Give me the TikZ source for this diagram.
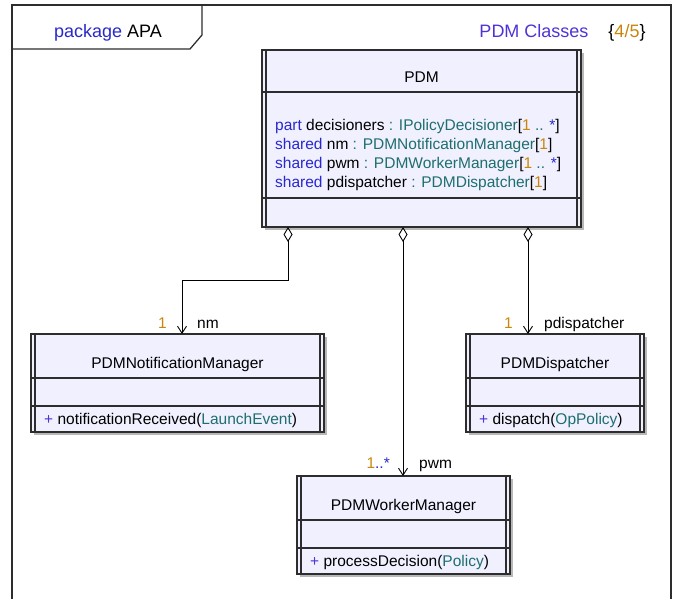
\documentclass[tikz,border=0pt]{standalone}
\usepackage{fontspec}
\setmainfont{Liberation Sans}
\usetikzlibrary{arrows.meta,shadows}
\definecolor{kwblue}{RGB}{40,40,205}
\definecolor{titleblue}{RGB}{80,50,215}
\definecolor{typeteal}{RGB}{30,110,110}
\definecolor{multgold}{RGB}{200,135,10}
\definecolor{boxfill}{RGB}{240,240,255}
\definecolor{lineclr}{RGB}{45,45,45}
\newcommand{\kwd}[1]{\textcolor{kwblue}{#1}}
\newcommand{\typ}[1]{\textcolor{typeteal}{#1}}
\newcommand{\mult}[1]{\textcolor{multgold}{#1}}
\newcommand{\opplus}{\textcolor{titleblue}{+}}
\newcommand{\sidelines}[1]{\draw[divider] ([xshift=4pt]#1.north west) -- ([xshift=4pt]#1.south west) ([xshift=-4pt]#1.north east) -- ([xshift=-4pt]#1.south east);}
\newcommand{\compline}[2]{\draw[divider] ([yshift=-#2pt]#1.north west) -- ([yshift=-#2pt]#1.north east);}

\begin{document}
\begin{tikzpicture}[x=1pt, y=-1pt, font=\fontsize{15.5}{18.7}\selectfont,
	classbox/.style={draw=lineclr, line width=1.4pt, fill=boxfill, inner sep=0pt, outer sep=0pt,
		drop shadow={shadow xshift=3pt, shadow yshift=-3pt, fill=black!28, opacity=1}},
	divider/.style={draw=lineclr, line width=1.2pt},
	frameline/.style={draw=lineclr, line width=1.3pt},
	headtext/.style={font=\fontsize{18}{21}\selectfont, anchor=base},
	txt/.style={anchor=base west, inner sep=0pt},
	endlabel/.style={inner sep=0pt},
	assoc/.style={line width=0.9pt, {Diamond[open, length=15pt, width=9pt]}-{Straight Barb[length=7pt, width=9pt]}}]
	\useasboundingbox (0,0) rectangle (675,599);
	% package frame
	\draw[frameline] (12,600) -- (12,5) -- (671,5) -- (671,600);
	\draw[frameline] (202,5) -- (202,35) -- (190,49) -- (12,49);
	\node[headtext] (pkg) at (108,38) {\kwd{package} APA};
	\node[headtext, text=titleblue] (diag) at (534,38) {PDM Classes};
	\node[headtext] (page) at (627,38) {\{\mult{4/5}\}};
	% PDM
	\node[classbox, minimum width=319pt, minimum height=177pt] (pdm) at (421.5,138.5) {};
	\sidelines{pdm}
	\compline{pdm}{42} \compline{pdm}{148}
	\node[anchor=base] (pdm-name) at ([yshift=-33pt]pdm.north) {PDM};
	\foreach \a [count=\i from 0] in {
		\kwd{part} decisioners \typ{: IPolicyDecisioner}[\mult{1} \typ{..} \kwd{*}],
		\kwd{shared} nm \typ{: PDMNotificationManager}[\mult{1}],
		\kwd{shared} pwm \typ{: PDMWorkerManager}[\mult{1} \typ{..} \kwd{*}],
		\kwd{shared} pdispatcher \typ{: PDMDispatcher}[\mult{1}]}
		\node[txt] (pdm-attr\i) at (275,{131+18.7*\i}) {\a};
	% parts
	\foreach \n/\cx/\cy/\w/\cname/\op in {
		nmgr/177.5/383/293/PDMNotificationManager/{notificationReceived(\typ{LaunchEvent})},
		disp/555/383/178/PDMDispatcher/{dispatch(\typ{OpPolicy})},
		wmgr/403.5/525/213/PDMWorkerManager/{processDecision(\typ{Policy})}}{
		\node[classbox, minimum width=\w pt, minimum height=98pt] (\n) at (\cx,\cy) {};
		\sidelines{\n}
		\compline{\n}{44} \compline{\n}{72}
		\node[anchor=base] (\n-name) at ([yshift=-34pt]\n.north) {\cname};
		\node[txt] (\n-op) at ([xshift=13pt,yshift=-90pt]\n.north west) {\opplus\ \op};
	}
	% associations
	\draw[assoc] ([xshift=-133.5pt]pdm.south) -- ++(0,53) -| ([xshift=4.5pt]nmgr.north);
	\draw[assoc] ([xshift=-18.5pt]pdm.south) -- ([xshift=-18.5pt]pdm.south |- wmgr.north);
	\draw[assoc] ([xshift=106.5pt]pdm.south) -- ([xshift=106.5pt]pdm.south |- disp.north);
	\node[endlabel, anchor=base east] (nmgr-mult) at (167,328) {\mult{1}};
	\node[endlabel, anchor=base west] (nmgr-role) at (197,328) {nm};
	\node[endlabel, anchor=base east] (disp-mult) at (513,328) {\mult{1}};
	\node[endlabel, anchor=base west] (disp-role) at (544,328) {pdispatcher};
	\node[endlabel, anchor=base east] (wmgr-mult) at (390,468) {\mult{1}\kwd{..*}};
	\node[endlabel, anchor=base west] (wmgr-role) at (419,468) {pwm};
\end{tikzpicture}
\end{document}
